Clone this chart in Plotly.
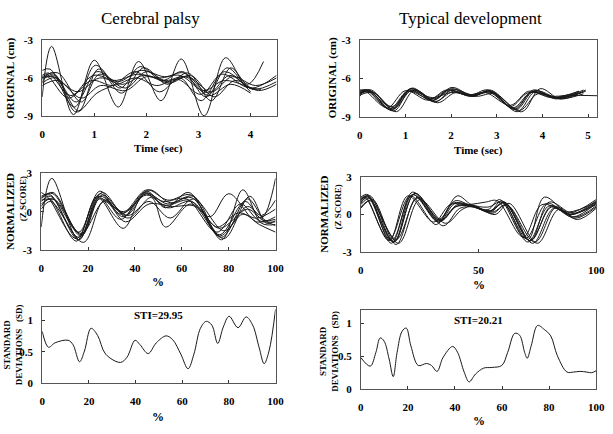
import plotly.graph_objects as go

W, H = 613, 434
SERIF = "Liberation Serif"

# ---------------- data ----------------
# Cerebral palsy, original (time sec, cm)
cp_orig_t = [
    [0, 0.18, 0.6, 1.0, 1.46, 1.85, 2.28, 2.67, 3.11, 3.52, 3.9, 4.1],
    [0, 0.15, 0.62, 1.02, 1.5, 1.88, 2.3, 2.7, 3.15, 3.55, 4.0, 4.5],
    [0, 0.2, 0.65, 1.05, 1.45, 1.9, 2.35, 2.72, 3.2, 3.6, 4.05, 4.5],
    [0, 0.12, 0.55, 0.98, 1.42, 1.82, 2.25, 2.65, 3.1, 3.5, 4.05],
    [0, 0.22, 0.68, 1.1, 1.55, 1.95, 2.38, 2.75, 3.2, 3.62, 4.0],
    [0, 0.25, 0.7, 1.08, 1.52, 1.95, 2.4, 2.8, 3.25, 3.62, 3.95, 4.25],
    [0, 0.3, 0.75, 1.12, 1.6, 2.0, 2.45, 2.85, 3.3, 3.7, 4.15, 4.5],
    [0, 0.25, 0.65, 1.05, 1.4, 1.8, 2.25, 2.65, 3.05, 3.5, 4.0],
    [0, 0.3, 0.75, 1.1, 1.6, 2.0, 2.4, 2.8, 3.25, 3.65, 4.1, 4.5],
    [0, 0.1, 0.5, 0.95, 1.35, 1.8, 2.2, 2.6, 3.05, 3.45, 3.9, 4.2],
]
cp_orig_y = [
    [-7.5, -3.5, -8.9, -4.6, -8.3, -4.7, -7.8, -4.5, -9.0, -4.4, -6.6, -6.9],
    [-5.4, -5.3, -8.3, -5.0, -6.8, -5.1, -6.2, -5.5, -7.5, -5.2, -6.8, -5.8],
    [-6.1, -5.6, -7.9, -5.5, -6.3, -5.4, -5.9, -5.6, -7.2, -5.8, -6.9, -6.3],
    [-5.8, -5.6, -7.4, -5.8, -6.2, -5.7, -6.0, -5.8, -7.0, -6.2, -6.9],
    [-6.0, -5.9, -7.1, -6.0, -6.5, -5.8, -6.2, -5.9, -7.4, -6.5, -7.2],
    [-6.4, -6.0, -8.6, -5.3, -7.2, -5.2, -6.5, -5.6, -7.8, -5.2, -6.5, -4.7],
    [-6.6, -6.2, -7.6, -6.6, -7.0, -5.9, -6.4, -5.8, -7.5, -6.2, -7.0, -6.5],
    [-6.0, -5.8, -8.7, -7.2, -6.5, -5.5, -7.1, -6.0, -7.8, -5.5, -7.1],
    [-5.9, -5.6, -7.9, -5.7, -6.8, -5.5, -6.3, -5.9, -7.1, -5.9, -6.6, -6.0],
    [-6.3, -5.9, -7.6, -6.2, -6.6, -6.0, -6.6, -6.1, -7.3, -5.7, -6.7, -6.9],
]

# Typical development, original (time sec, cm)
td_orig_t = [
    [0, 0.2, 0.7, 1.1, 1.6, 2.0, 2.45, 2.85, 3.4, 3.8, 4.3, 4.9],
    [0, 0.25, 0.75, 1.15, 1.65, 2.05, 2.5, 2.9, 3.45, 3.85, 4.35, 4.95],
    [0, 0.15, 0.65, 1.05, 1.55, 1.95, 2.4, 2.8, 3.35, 3.75, 4.25, 4.85],
    [0, 0.3, 0.8, 1.2, 1.7, 2.1, 2.55, 2.95, 3.5, 3.9, 4.4, 4.9],
    [0, 0.2, 0.7, 1.1, 1.6, 2.0, 2.45, 2.9, 3.3, 3.7, 4.3, 4.8],
    [0, 0.25, 0.72, 1.12, 1.62, 2.02, 2.48, 2.85, 3.55, 3.95, 4.4, 4.95],
    [0, 0.1, 0.6, 1.0, 1.5, 1.9, 2.35, 2.75, 3.3, 3.7, 4.2, 4.8],
    [0, 0.2, 0.68, 1.08, 1.58, 1.98, 2.42, 2.82, 3.38, 3.78, 4.3, 4.6, 5.2],
    [0, 0.22, 0.74, 1.14, 1.64, 2.04, 2.48, 2.88, 3.42, 3.82, 4.32, 4.9],
]
td_orig_y = [
    [-7.0, -6.9, -8.5, -6.8, -7.7, -6.8, -7.4, -7.0, -8.4, -6.9, -7.6, -6.9],
    [-7.1, -7.0, -8.3, -6.9, -7.8, -7.0, -7.3, -7.1, -8.6, -7.0, -7.5, -7.0],
    [-7.2, -6.95, -8.4, -7.0, -7.6, -6.9, -7.35, -6.9, -8.3, -7.1, -7.4, -7.1],
    [-7.3, -7.1, -8.6, -6.9, -7.9, -7.1, -7.4, -7.2, -8.5, -7.2, -7.6, -7.2],
    [-7.0, -7.0, -8.2, -7.0, -7.5, -7.1, -7.3, -7.0, -8.2, -7.1, -7.5, -7.0],
    [-7.1, -6.9, -8.4, -6.8, -7.6, -6.7, -7.4, -6.9, -8.6, -6.8, -7.6, -6.9],
    [-7.4, -7.0, -8.3, -6.95, -7.7, -6.9, -7.3, -7.1, -8.1, -7.0, -7.5, -7.0],
    [-7.2, -7.05, -8.45, -6.9, -7.75, -6.95, -7.4, -7.05, -8.35, -7.05, -7.5, -7.35, -7.35],
    [-6.9, -6.95, -8.55, -6.75, -7.85, -6.85, -7.3, -7.0, -8.45, -6.95, -7.55, -7.05],
]

# Cerebral palsy, normalized (% cycle, z score)
cp_norm_x = [
    [0, 4.5, 16, 25, 35, 45, 53, 63, 76, 87, 94, 100],
    [0, 5, 17, 26, 36, 46, 55, 65, 77, 86, 94, 100],
    [0, 3.5, 15, 24, 34, 44, 52, 62, 75, 85, 93, 100],
    [0, 4, 16, 25, 35, 45, 54, 64, 76, 88, 95, 100],
    [0, 5, 17, 26, 37, 47, 53, 64, 77, 88, 95, 100],
    [0, 4, 18, 27, 37, 46, 55, 65, 78, 86, 93, 100],
    [0, 5, 16, 24, 35, 44, 53, 63, 72, 80, 92, 100],
    [0, 3, 15, 25, 34, 45, 54, 64, 76, 88, 94, 100],
    [0, 6, 17, 27, 36, 46, 56, 66, 78, 89, 96, 100],
    [0, 4, 16, 25, 35, 45, 54, 64, 75, 84, 92, 100],
]
cp_norm_y = [
    [-1.2, 2.6, -2.2, 1.4, -0.4, 1.6, 0.3, 1.5, -1.8, 0.8, -0.5, 2.6],
    [1.0, 1.5, -1.8, 1.5, -0.3, 1.7, 0.7, 1.2, -2.2, 1.7, -0.9, -1.0],
    [0.4, 1.0, -2.3, 1.2, -0.6, 1.5, 0.8, 1.0, -1.6, 0.6, -0.7, -0.8],
    [0.8, 1.2, -2.0, 1.0, 0.0, 1.3, 0.3, 0.8, -1.3, 0.2, -0.7, -0.6],
    [1.2, 1.4, -1.9, 1.3, -0.5, 1.1, -1.2, 0.6, -2.0, 1.0, -0.6, -1.1],
    [0.2, 0.8, -2.4, 0.9, -0.3, 0.8, -0.5, 1.0, -1.5, -0.2, -1.0, -1.6],
    [0.6, 1.0, -1.6, 1.1, -1.3, 1.4, 0.5, 0.9, -0.4, 1.4, -0.8, -0.4],
    [1.5, 1.1, -2.1, 1.6, -0.2, 1.7, 0.9, 1.3, -1.9, 0.4, -0.3, 0.9],
    [0.9, 0.9, -1.7, 0.8, -0.8, 0.6, 0.4, 0.4, -2.1, 1.2, -0.9, -0.7],
    [1.1, 1.3, -2.2, 1.2, -0.1, 1.4, 0.6, 1.1, -1.2, -0.1, -0.5, 0.2],
]

# Typical development, normalized (% cycle, z score)
td_norm_x = [
    [0, 3, 13, 22, 33, 40, 47, 55, 60, 71, 80, 89, 100],
    [0, 4, 14, 23, 34, 41, 47, 55, 61, 72, 81, 90, 100],
    [0, 2, 12, 21, 32, 39, 46, 54, 59, 70, 79, 88, 100],
    [0, 5, 15, 24, 35, 42, 48, 56, 62, 73, 82, 91, 100],
    [0, 3, 13, 22, 33, 41, 47, 54, 60, 71, 78, 89, 100],
    [0, 4, 16, 25, 36, 43, 48, 57, 63, 75, 84, 92, 100],
    [0, 3, 14, 23, 33, 40, 47, 55, 61, 72, 80, 90, 100],
    [0, 2, 12, 20, 31, 38, 46, 53, 58, 69, 77, 88, 100],
    [0, 4, 15, 24, 34, 41, 47, 56, 62, 74, 83, 91, 100],
    [0, 3, 14, 22, 33, 40, 46, 55, 61, 72, 81, 89, 100],
]
td_norm_y = [
    [1.4, 1.6, -2.3, 1.8, -0.6, 0.6, 0.7, 0.3, 1.1, -2.2, 0.7, 0.0, 1.1],
    [1.2, 1.5, -2.2, 1.7, -0.5, 0.8, 0.7, 0.2, 1.0, -2.1, 0.6, -0.2, 0.9],
    [0.9, 1.3, -2.0, 1.5, -0.8, 0.9, 0.8, 0.4, 1.2, -1.9, 0.9, 0.1, 1.2],
    [0.5, 1.2, -2.4, 1.4, -0.9, 0.5, 0.6, 0.1, 0.8, -2.3, 0.5, -0.3, 0.6],
    [1.0, 1.4, -2.1, 1.6, -0.4, 1.5, 0.8, 0.6, 1.0, -2.0, 1.4, 0.0, 1.0],
    [0.6, 1.1, -2.3, 1.2, -0.7, 0.4, 0.7, 0.0, 0.9, -2.3, 0.4, -0.4, 0.5],
    [1.3, 1.5, -2.2, 1.7, -0.5, 1.1, 0.7, 0.3, 0.9, -2.1, 1.0, 0.1, 0.8],
    [1.1, 1.4, -2.1, 1.5, -0.6, 0.8, 0.8, 1.0, 1.1, -1.8, 0.8, 0.2, 1.0],
    [0.8, 1.3, -2.0, 1.3, -0.4, 0.7, 0.7, 0.2, 0.8, -2.2, 0.6, -0.2, 0.7],
    [1.2, 1.5, -2.2, 1.6, -0.6, 0.9, 0.7, 0.3, 1.0, -2.1, 0.7, 0.0, 0.9],
]

# Standard deviation curves (% cycle, SD)
cp_sd_x = [0, 2.7, 5.5, 11.1, 13.2, 16.0, 18.1, 20.9, 23.7, 27.2, 33.5, 36.3, 39.8, 41.9,
           45.4, 48.9, 53.1, 55.9, 59.4, 62.5, 65.0, 67.8, 70.3, 72.7, 75.2, 77.6, 80.1,
           83.9, 87.4, 90.2, 93.0, 95.1, 97.2, 100]
cp_sd_y = [0.82, 0.57, 0.64, 0.68, 0.61, 0.34, 0.51, 0.87, 0.76, 0.46, 0.33, 0.41, 0.68, 0.61,
           0.47, 0.64, 0.75, 0.69, 0.46, 0.23, 0.46, 0.87, 0.98, 0.92, 0.63, 0.89, 1.06,
           0.88, 1.05, 0.92, 0.56, 0.31, 0.51, 1.17]
td_sd_x = [0, 4.0, 6.4, 8.2, 9.9, 12.0, 13.75, 15.4, 17.5, 19.3, 21.25, 24.4, 27.9, 30.0,
           32.4, 34.9, 39.0, 41.1, 43.9, 46.0, 48.75, 52.2, 55.7, 59.9, 62.4, 65.4, 67.5,
           69.6, 70.7, 72.4, 75.1, 77.9, 80.7, 83.5, 87.6, 90.4, 93.2, 96.0, 98.1, 100]
td_sd_y = [0.48, 0.35, 0.56, 0.78, 0.73, 0.46, 0.19, 0.56, 0.88, 0.93, 0.66, 0.36, 0.39, 0.36,
           0.27, 0.48, 0.65, 0.56, 0.26, 0.11, 0.23, 0.32, 0.33, 0.36, 0.56, 0.85, 0.82,
           0.56, 0.47, 0.66, 0.97, 0.91, 0.81, 0.51, 0.26, 0.26, 0.27, 0.26, 0.25, 0.28]

titles = ["Cerebral palsy", "Typical development"]
sti_labels = ["STI=29.95", "STI=20.21"]

# ---------------- figure ----------------
fig = go.Figure()

def px_x(p):
    return p / W

def px_y(p):
    return 1 - p / H

# panel boxes in pixels: (left, right, top, bottom)
boxes = {
    1: (40, 279, 35, 113),
    2: (364, 606, 35, 114),
    3: (39, 278, 172, 251),
    4: (365, 605, 176, 253),
    5: (40, 278, 310, 388),
    6: (365, 605, 313, 394),
}

LINE = dict(color="#1a1a1a", width=1, shape="spline", smoothing=1.0)

def add_group(xs, ys, n):
    for xx, yy in zip(xs, ys):
        fig.add_trace(go.Scatter(x=xx, y=yy, mode="lines", line=LINE,
                                 xaxis=f"x{n}", yaxis=f"y{n}", showlegend=False,
                                 hoverinfo="skip"))

add_group(cp_orig_t, cp_orig_y, 1)
add_group(td_orig_t, td_orig_y, 2)
add_group(cp_norm_x, cp_norm_y, 3)
add_group(td_norm_x, td_norm_y, 4)
add_group([cp_sd_x], [cp_sd_y], 5)
add_group([td_sd_x], [td_sd_y], 6)

tickfont = dict(family=SERIF, size=11, color="black", weight="bold")

xranges = {1: [0, 4.5], 2: [0, 5.2], 3: [0, 100], 4: [0, 100], 5: [0, 100], 6: [0, 100]}
xticks = {1: [0, 1, 2, 3, 4], 2: [0, 1, 2, 3, 4, 5], 3: [0, 20, 40, 60, 80, 100],
          4: [0, 50, 100], 5: [0, 20, 40, 60, 80, 100], 6: [0, 20, 40, 60, 80, 100]}
yranges = {1: [-9, -3], 2: [-9, -3], 3: [-3, 3], 4: [-3, 3], 5: [0, 1.2], 6: [0, 1.2]}
yticks = {1: [-9, -6, -3], 2: [-9, -6, -3], 3: [-3, 0, 3], 4: [-3, 0, 3],
          5: [0, 0.5, 1], 6: [0, 0.5, 1]}

layout = dict(width=W, height=H, margin=dict(l=0, r=0, t=0, b=0),
              paper_bgcolor="white", plot_bgcolor="white", showlegend=False)

for n, (l, r, t, b) in boxes.items():
    common = dict(showgrid=False, zeroline=False, showline=True, linecolor="#555555",
                  linewidth=1, mirror=True, ticks="inside", ticklen=3, tickcolor="#333333",
                  tickfont=tickfont, fixedrange=True)
    layout[f"xaxis{n}"] = dict(domain=[px_x(l), px_x(r)], anchor=f"y{n}",
                               range=xranges[n], tickvals=xticks[n],
                               ticktext=[str(v) for v in xticks[n]],
                               ticklabelstandoff=8, **common)
    layout[f"yaxis{n}"] = dict(domain=[px_y(b), px_y(t)], anchor=f"x{n}",
                               range=yranges[n], tickvals=yticks[n],
                               ticktext=[str(v) for v in yticks[n]],
                               ticklabelstandoff=6, **common)

fig.update_layout(**layout)

ann = []

def text(x, y, s, size=11, angle=0, bold=True):
    ann.append(dict(x=px_x(x), y=px_y(y), xref="paper", yref="paper", text=s,
                    showarrow=False, textangle=angle, xanchor="center", yanchor="middle",
                    font=dict(family=SERIF, size=size, color="black",
                              weight="bold" if bold else "normal")))

# column titles
text(150, 13, titles[0], size=17, bold=False)
text(477, 13, titles[1], size=17, bold=False)

# x axis titles
text(159, 147, "Time (sec)")
text(485, 149, "Time (sec)")
text(158, 284, "%", size=12)
text(485, 287, "%", size=12)
text(158, 423, "%", size=12)
text(485, 427, "%", size=12)

# y axis titles
text(8, 74, "ORIGINAL&nbsp;(cm)", size=11, angle=-90)
text(337, 74, "ORIGINAL&nbsp;(cm)", size=11, angle=-90)
text(7, 211, "NORMALIZED", size=11, angle=-90)
text(20, 198, "(Z SCORE)", size=9, angle=-90)
text(328, 214, "NORMALIZED", size=11, angle=-90)
text(342, 207, "(Z SCORE)", size=9, angle=-90)
text(11, 348, "STANDARD<br>DEVIATIONS&nbsp;&nbsp;&nbsp;(SD)", size=9, angle=-90)
text(333, 355, "STANDARD<br>DEVIATIONS&nbsp;&nbsp;&nbsp;(SD)", size=9, angle=-90)

# STI labels
text(159, 318, sti_labels[0])
text(485, 323, sti_labels[1])

fig.update_layout(annotations=ann)
fig.write_html("out.html")
